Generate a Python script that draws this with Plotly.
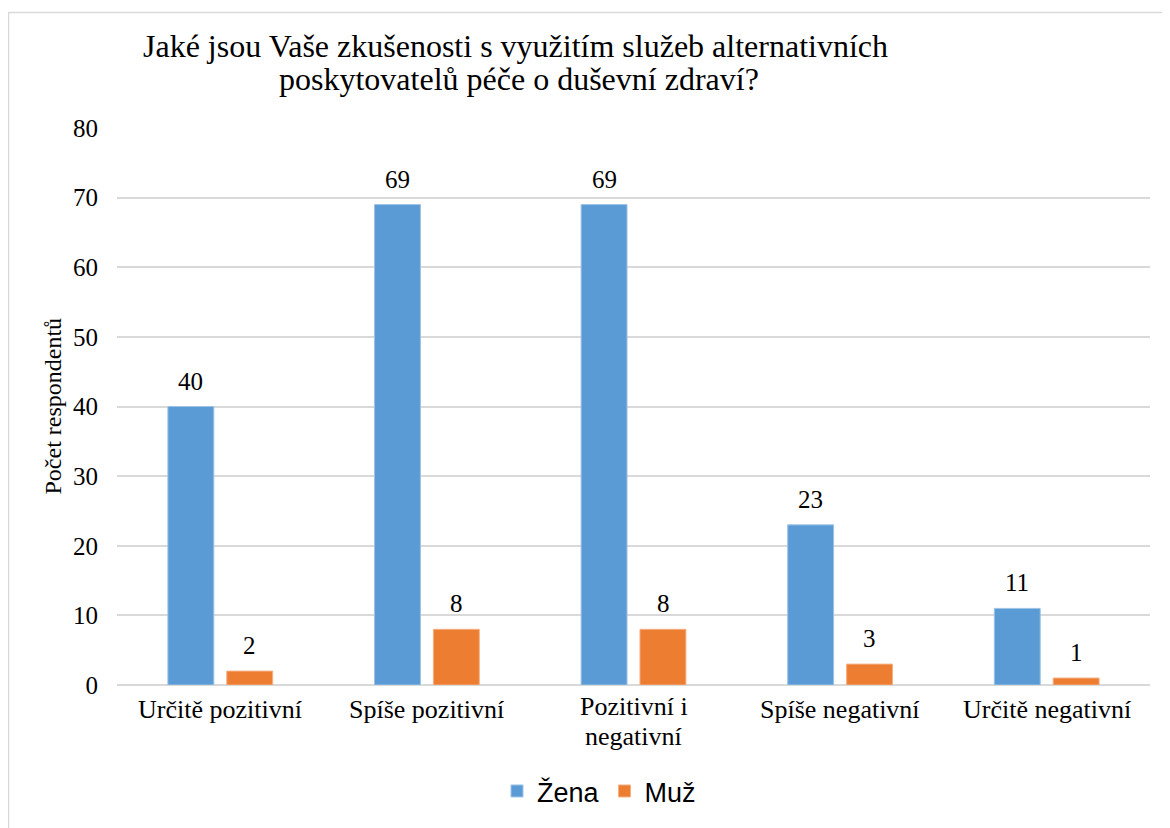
import plotly.graph_objects as go

categories = ["Určitě pozitivní", "Spíše pozitivní", "Pozitivní i<br>negativní", "Spíše negativní", "Určitě negativní"]
zena = [40, 69, 69, 23, 11]
muz = [2, 8, 8, 3, 1]
y_ticks = [0, 10, 20, 30, 40, 50, 60, 70, 80]
title_lines = ["Jaké jsou Vaše zkušenosti s využitím služeb alternativních",
               "poskytovatelů péče o duševní zdraví?"]
y_title = "Počet respondentů"

SERIF = "Liberation Serif"
SANS = "Liberation Sans"
BLUE = "#5B9BD5"
ORANGE = "#ED7D31"

W, H = 1162, 820
L, R, T, B = 109, 20, 120, 140
PW, PH = W - L - R, H - T - B

def px(xp):
    return (xp - L) / PW

def py(yp):
    return 1 - (yp - T) / PH

fig = go.Figure()
fig.add_trace(go.Bar(name="Žena", x=categories, y=zena, marker=dict(color=BLUE, line=dict(color="#9DC3E6", width=1))))
fig.add_trace(go.Bar(name="Muž", x=categories, y=muz, marker=dict(color=ORANGE, line=dict(color="#F4B183", width=1))))

# data labels
for i, c in enumerate(categories):
    for j, vals in enumerate([zena, muz]):
        fig.add_annotation(x=c, y=vals[i], text=str(vals[i]), showarrow=False,
                           xref="x", yref="y", yanchor="bottom", yshift=10,
                           xshift=(-29.5 if j == 0 else 29.5),
                           font=dict(family=SERIF, size=25, color="#000"))

# category labels (drawn line by line for tight line spacing)
for c in categories:
    lines = c.split("<br>")
    y0 = 705 if len(lines) == 1 else 702
    for k, line in enumerate(lines):
        fig.add_annotation(x=c, xref="x", yref="paper", y=py(y0 + 30 * k), text=line,
                           showarrow=False, xanchor="center", yanchor="middle",
                           font=dict(family=SERIF, size=26, color="#000"))

fig.update_layout(
    width=W, height=H,
    margin=dict(l=L, r=R, t=T, b=B),
    paper_bgcolor="white", plot_bgcolor="white",
    barmode="group", bargap=0.43, bargroupgap=0.22,
    showlegend=True,
    legend=dict(orientation="h", x=px(591), xanchor="center", y=py(787), yanchor="middle",
                font=dict(family=SANS, size=27, color="#000"),
                itemwidth=30, traceorder="normal"),
    xaxis=dict(showgrid=False, showline=False, ticks="", showticklabels=False),
    yaxis=dict(range=[0, 80], tickvals=y_ticks, showgrid=True, gridcolor="#D9D9D9", gridwidth=1.5,
               zeroline=True, zerolinecolor="#D9D9D9", zerolinewidth=1.5, showline=False,
               ticklabelstandoff=18,
               tickfont=dict(family=SERIF, size=25, color="#000")),
)

# title (two lines placed separately)
for txt, xc, yc in [(title_lines[0], 507.5, 38), (title_lines[1], 510.5, 71)]:
    fig.add_annotation(text=txt, xref="paper", yref="paper", x=px(xc), y=py(yc),
                       showarrow=False, xanchor="center", yanchor="middle",
                       font=dict(family=SERIF, size=32, color="#000"))

fig.add_annotation(text=y_title, textangle=-90, xref="paper", yref="paper",
                   x=px(44), y=0.5, showarrow=False, xanchor="center", yanchor="middle",
                   font=dict(family=SERIF, size=24, color="#000"))

# chart area border
fig.add_shape(type="rect", xref="paper", yref="paper",
              x0=px(0.5), x1=px(W + 40), y0=py(H + 40), y1=py(4),
              line=dict(color="#D9D9D9", width=1.5), fillcolor="rgba(0,0,0,0)", layer="below")

fig.write_html("out.html")
